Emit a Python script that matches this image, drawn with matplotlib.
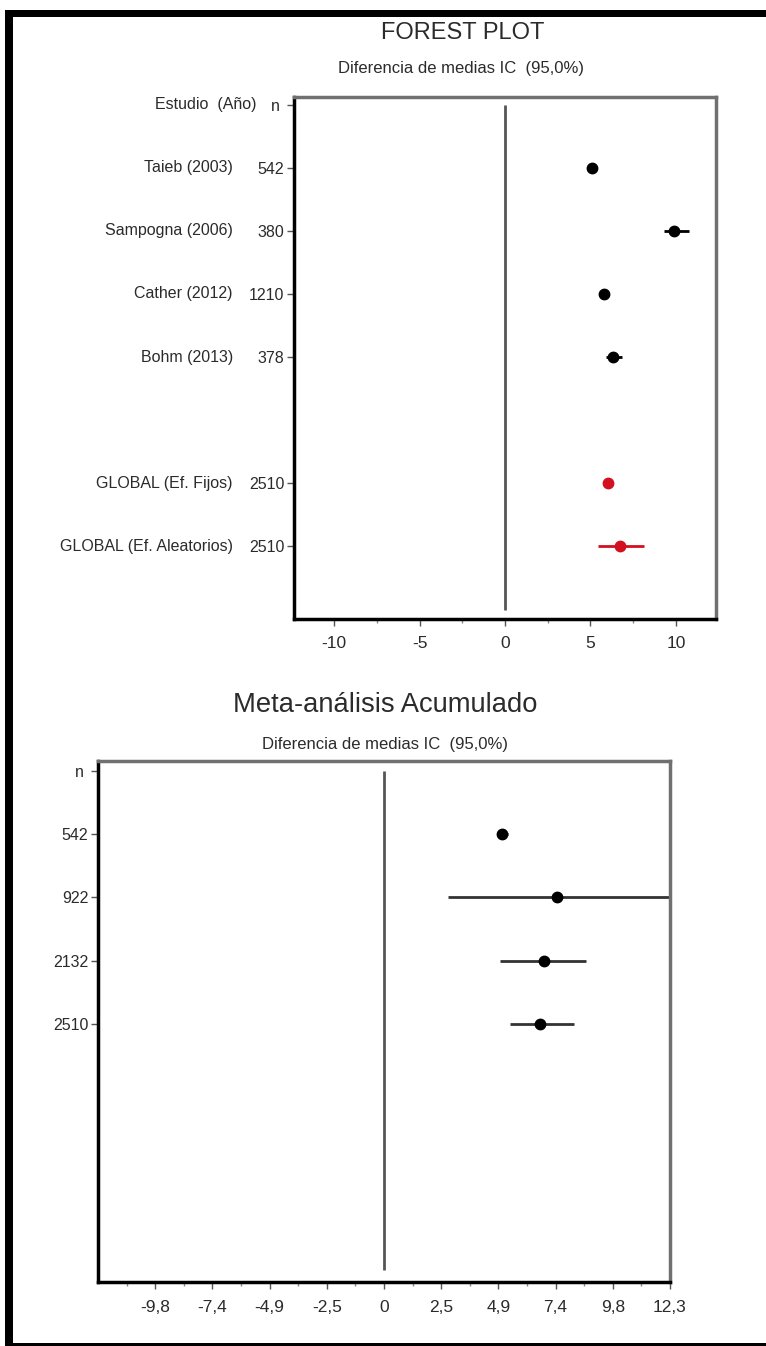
import matplotlib
matplotlib.use("Agg")
import matplotlib.pyplot as plt
from matplotlib.patches import Rectangle

plt.rcParams['font.family'] = ['Liberation Sans', 'DejaVu Sans']

# Forest plot data (mean difference, 95% CI)
study_names = ["Taieb (2003)", "Sampogna (2006)", "Cather (2012)", "Bohm (2013)",
               "GLOBAL (Ef. Fijos)", "GLOBAL (Ef. Aleatorios)"]
study_n = ["542", "380", "1210", "378", "2510", "2510"]
study_md = [5.1, 9.9, 5.8, 6.35, 6.0, 6.73]
study_lo = [4.85, 9.3, 5.6, 5.9, 5.85, 5.42]
study_hi = [5.35, 10.75, 6.0, 6.85, 6.15, 8.15]
study_global = [False, False, False, False, True, True]

# Cumulative meta-analysis data
cum_n = ["542", "922", "2132", "2510"]
cum_md = [5.09, 7.43, 6.86, 6.73]
cum_lo = [4.85, 2.75, 4.98, 5.42]
cum_hi = [5.35, 12.3, 8.67, 8.15]

top_ticks = [-10, -5, 0, 5, 10]
top_minor = [-7.5, -2.5, 2.5, 7.5]
bot_ticks = [-9.84, -7.38, -4.92, -2.46, 0, 2.46, 4.92, 7.38, 9.84, 12.3]
bot_labels = ["-9,8", "-7,4", "-4,9", "-2,5", "0", "2,5", "4,9", "7,4", "9,8", "12,3"]
bot_minor = [-11.07, -8.61, -6.15, -3.69, -1.23, 1.23, 3.69, 6.15, 8.61, 11.07]

W, H = 766, 1346
TXT = '#2b2b2b'
RED = '#d3101f'


def px_box(left, top, right, bottom):
    return [left / W, 1 - bottom / H, (right - left) / W, (bottom - top) / H]


def style_axes(ax, xpad):
    for side in ['left', 'bottom']:
        ax.spines[side].set_color('black')
        ax.spines[side].set_linewidth(2.5)
    for side in ['top', 'right']:
        ax.spines[side].set_color('#707070')
        ax.spines[side].set_linewidth(2.5)
    ax.tick_params(which='major', direction='out', length=5, width=1, color='#555555',
                   labelsize=12.5, labelcolor=TXT)
    ax.tick_params(axis='x', which='major', pad=xpad)
    ax.tick_params(axis='y', which='major', pad=2, labelsize=11.5)
    ax.tick_params(which='minor', direction='out', length=3, width=1, color='#888888')
    ax.tick_params(axis='y', which='minor', left=False)
    ax.set_facecolor('white')


fig = plt.figure(figsize=(W / 100, H / 100), dpi=100)
fig.patch.set_facecolor('white')

# ---- top: forest plot ----
ax1 = fig.add_axes(px_box(294, 97, 716, 619))
rows = [1, 2, 3, 4, 6, 7]
ax1.vlines(0, 0, 8, color='#555555', lw=2)
for r, m, lo, hi, g in zip(rows, study_md, study_lo, study_hi, study_global):
    c = RED if g else 'black'
    ax1.hlines(r, lo, hi, color=c, lw=2)
    ax1.plot(m, r, 'o', color=c, ms=7.5)
ax1.set_xlim(-12.35, 12.35)
ax1.set_ylim(8.15, -0.12)
ax1.set_xticks(top_ticks)
ax1.set_xticklabels([str(t) for t in top_ticks])
ax1.set_xticks(top_minor, minor=True)
ax1.set_yticks([0] + rows)
ax1.set_yticklabels(["n "] + study_n)
style_axes(ax1, 7)

ax1.annotate("Estudio  (Año)", xy=(0, 0), xycoords=('axes fraction', 'data'),
             xytext=(-27, 0), textcoords='offset points', ha='right', va='center',
             fontsize=11.5, color=TXT)
for r, name in zip(rows, study_names):
    ax1.annotate(name, xy=(0, r), xycoords=('axes fraction', 'data'),
                 xytext=(-44, 0), textcoords='offset points', ha='right', va='center',
                 fontsize=11.5, color=TXT)

fig.text(463 / W, 1 - 33 / H, "FOREST PLOT", ha='center', va='center', fontsize=17, color=TXT)
fig.text(461 / W, 1 - 68 / H, "Diferencia de medias IC  (95,0%)", ha='center', va='center',
         fontsize=12, color=TXT)

# ---- bottom: cumulative meta-analysis ----
ax2 = fig.add_axes(px_box(98, 761, 670, 1282))
rows2 = [1, 2, 3, 4]
ax2.vlines(0, 0, 7.9, color='#555555', lw=2)
for r, m, lo, hi in zip(rows2, cum_md, cum_lo, cum_hi):
    ax2.hlines(r, lo, hi, color='#333333', lw=2)
    ax2.plot(m, r, 'o', color='black', ms=7.5)
ax2.set_xlim(-12.3, 12.3)
ax2.set_ylim(8.09, -0.16)
ax2.set_xticks(bot_ticks)
ax2.set_xticklabels(bot_labels)
ax2.set_xticks(bot_minor, minor=True)
ax2.set_yticks([0] + rows2)
ax2.set_yticklabels(["n "] + cum_n)
style_axes(ax2, 8)

fig.text(385 / W, 1 - 705 / H, "Meta-análisis Acumulado", ha='center', va='center',
         fontsize=19.7, color=TXT)
fig.text(385 / W, 1 - 745 / H, "Diferencia de medias IC  (95,0%)", ha='center', va='center',
         fontsize=12, color=TXT)

# black frame bands around the screenshot
fig.add_artist(Rectangle((5 / W, 1 - 17 / H), 1, 7 / H, transform=fig.transFigure,
                         color='black', lw=0))
fig.add_artist(Rectangle((5 / W, 0), 8 / W, 1 - 10 / H, transform=fig.transFigure,
                         color='black', lw=0))
fig.add_artist(Rectangle((5 / W, 0), 1, 3 / H, transform=fig.transFigure,
                         color='black', lw=0))

fig.savefig("out.png", dpi=100, facecolor='white')
